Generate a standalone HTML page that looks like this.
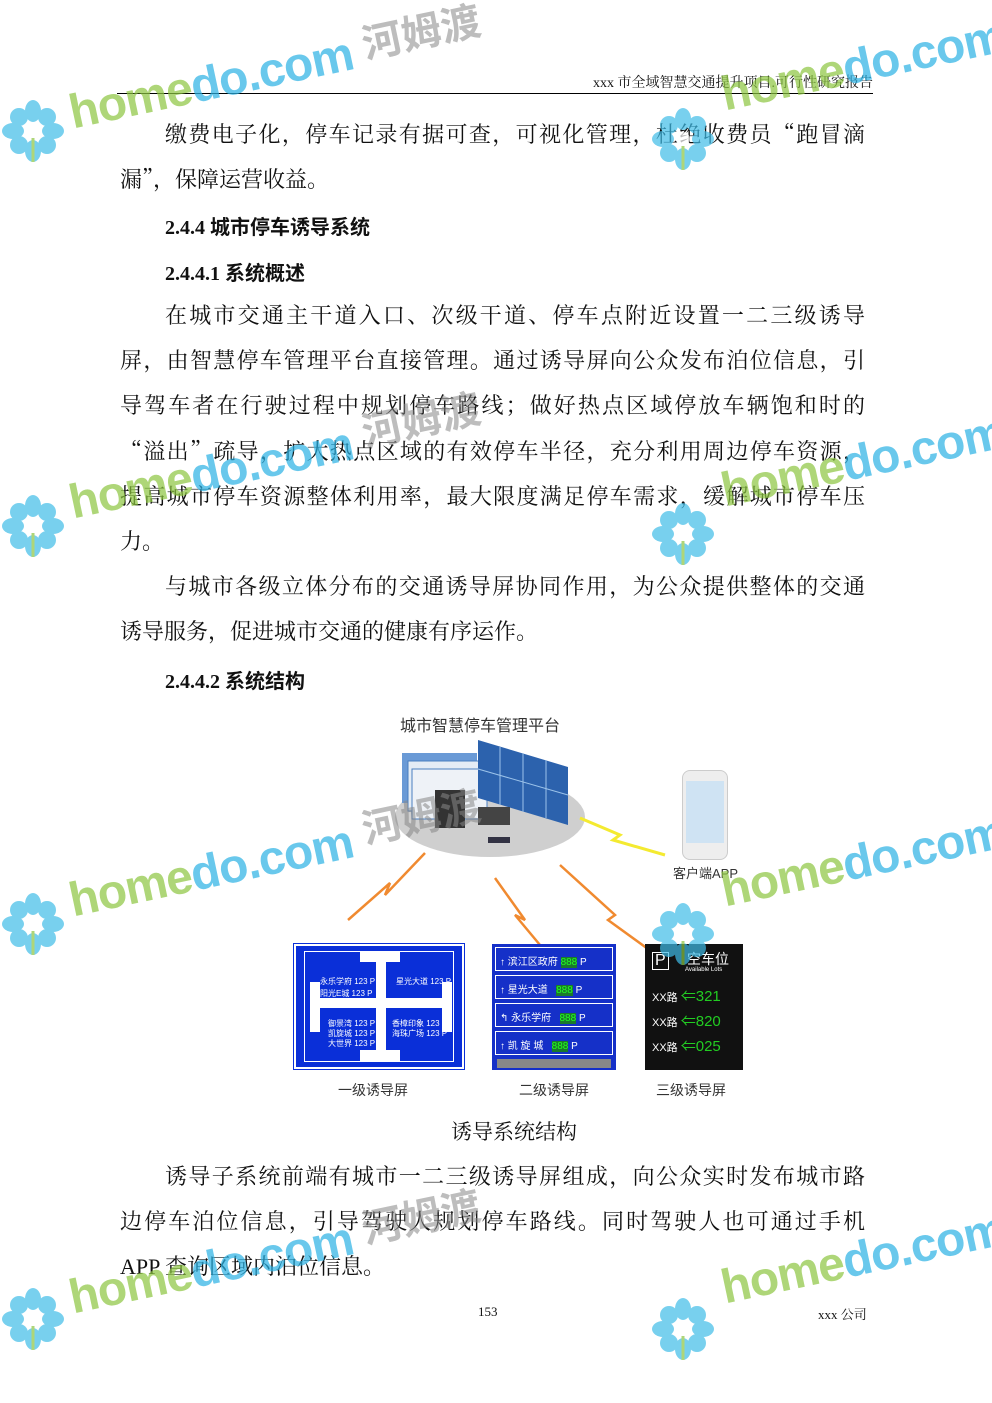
<!DOCTYPE html>
<html><head><meta charset="utf-8">
<style>
*{margin:0;padding:0;box-sizing:border-box}
body{width:992px;height:1403px;background:#fff;position:relative;overflow:hidden;font-family:"Liberation Serif","Noto Serif CJK SC","Noto Sans CJK SC",serif;color:#111}
.l{position:absolute;font-size:22px;line-height:30px;white-space:nowrap}
.j{width:745px;left:120px;text-align:justify;text-align-last:justify}
.ji{width:700px;left:165px;text-align:justify;text-align-last:justify}
.q{font-family:"Noto Serif CJK SC",serif}
.h{position:absolute;left:165px;font-size:20px;font-weight:bold;font-family:"Liberation Serif","Noto Sans CJK SC",serif}
.s{position:absolute;font-family:"Liberation Sans","Noto Sans CJK SC",sans-serif;font-size:14px;color:#333}
.wm{position:absolute;font-family:"Liberation Sans",sans-serif;font-weight:bold;opacity:.7;transform:rotate(-12deg);transform-origin:left center;white-space:nowrap;font-size:48px;line-height:48px;letter-spacing:-1px}
.hm{position:absolute;font-family:"Noto Sans CJK SC",sans-serif;font-weight:bold;color:#888;opacity:.55;font-size:40px;line-height:44px;transform:rotate(-12deg);transform-origin:left center;white-space:nowrap}
.g{color:#8cc63f}.c{color:#2ab2e4}
.fl{position:absolute;width:62px;height:62px;opacity:.7}
.gs{font-family:"Liberation Sans","Noto Sans CJK SC",sans-serif;color:#fff;position:absolute;font-size:8px}
</style></head><body>
<div style="position:absolute;left:560px;top:72px;font-size:14px;width:313px;text-align:right">xxx 市全域智慧交通提升项目.可行性研究报告</div>
<div style="position:absolute;left:117px;top:93px;width:756px;border-top:1px solid #000"></div>

<div class="l ji" style="top:119px">缴费电子化，停车记录有据可查，可视化管理，杜绝收费员<span class="q">“</span>跑冒滴</div>
<div class="l" style="left:120px;top:164px">漏<span class="q">”</span>，保障运营收益。</div>
<div class="h" style="top:211px">2.4.4 城市停车诱导系统</div>
<div class="h" style="top:257px">2.4.4.1 系统概述</div>
<div class="l ji" style="top:301px">在城市交通主干道入口、次级干道、停车点附近设置一二三级诱导</div>
<div class="l j" style="top:346px">屏，由智慧停车管理平台直接管理。通过诱导屏向公众发布泊位信息，引</div>
<div class="l j" style="top:391px">导驾车者在行驶过程中规划停车路线；做好热点区域停放车辆饱和时的</div>
<div class="l j" style="top:436px"><span class="q">“</span>溢出<span class="q">”</span>疏导，扩大热点区域的有效停车半径，充分利用周边停车资源，</div>
<div class="l j" style="top:482px">提高城市停车资源整体利用率，最大限度满足停车需求，缓解城市停车压</div>
<div class="l" style="left:120px;top:527px">力。</div>
<div class="l ji" style="top:572px">与城市各级立体分布的交通诱导屏协同作用，为公众提供整体的交通</div>
<div class="l" style="left:120px;top:617px">诱导服务，促进城市交通的健康有序运作。</div>
<div class="h" style="top:665px">2.4.4.2 系统结构</div>

<!-- diagram -->
<div class="s" style="left:400px;top:712px;font-size:16px">城市智慧停车管理平台</div>
<svg style="position:absolute;left:290px;top:735px" width="460" height="230">
 <ellipse cx="200" cy="82" rx="95" ry="40" fill="#cfcfcf"/>
 <rect x="112" y="18" width="75" height="50" fill="#6a9ad6"/>
 <rect x="118" y="26" width="75" height="50" fill="#e4ecf5" stroke="#4a7fc0"/>
 <rect x="122" y="34" width="75" height="50" fill="#eef2f7" stroke="#4a7fc0"/>
 <polygon points="188,5 278,32 278,90 188,63" fill="#2c62ad"/>
 <g stroke="#9cc3ea" stroke-width="1"><line x1="210" y1="12" x2="210" y2="70"/><line x1="233" y1="18" x2="233" y2="77"/><line x1="256" y1="25" x2="256" y2="83"/><line x1="188" y1="34" x2="278" y2="60"/></g>
 <rect x="145" y="55" width="30" height="38" fill="#333"/>
 <rect x="188" y="72" width="32" height="18" fill="#444"/>
 <rect x="198" y="102" width="22" height="6" fill="#334"/>
 <g fill="none" stroke="#f08a30" stroke-width="2.5">
  <polyline points="58,185 100,148 95,160 135,118"/>
  <polyline points="205,143 235,185 225,180 265,228"/>
  <polyline points="270,130 325,180 318,185 380,230"/>
 </g>
 <polyline points="290,83 330,100 323,105 375,120" fill="none" stroke="#f4ea30" stroke-width="3"/>
</svg>
<div style="position:absolute;left:682px;top:770px;width:46px;height:90px;border-radius:8px;background:#eee;border:1px solid #ccc"><div style="margin:10px 3px;height:62px;background:#cfe3f3"></div></div>
<div class="s" style="left:673px;top:863px;font-size:13px">客户端APP</div>

<div style="position:absolute;left:294px;top:944px;width:170px;height:125px;background:#0a2fd8;border:2px solid #fff;outline:1px solid #0a2fd8">
 <div style="position:absolute;left:8px;top:5px;right:8px;bottom:5px;border:1px solid #fff"></div>
 <div style="position:absolute;left:80px;top:8px;width:10px;height:108px;background:#fff"></div>
 <div style="position:absolute;left:18px;top:52px;width:135px;height:10px;background:#fff"></div>
 <div style="position:absolute;left:64px;top:5px;width:40px;height:11px;background:#fff"></div>
 <div style="position:absolute;left:64px;top:104px;width:40px;height:11px;background:#fff"></div>
 <div style="position:absolute;left:14px;top:36px;width:10px;height:50px;background:#fff"></div>
 <div style="position:absolute;left:146px;top:36px;width:10px;height:50px;background:#fff"></div>
 <div class="gs" style="left:24px;top:30px">永乐学府 123 P</div>
 <div class="gs" style="left:100px;top:30px">星光大道 123 P</div>
 <div class="gs" style="left:24px;top:42px">阳光E城 123 P</div>
 <div class="gs" style="left:32px;top:72px">御景湾 123 P</div>
 <div class="gs" style="left:32px;top:82px">凯旋城 123 P</div>
 <div class="gs" style="left:32px;top:92px">大世界 123 P</div>
 <div class="gs" style="left:96px;top:72px">香樟印象 123 P</div>
 <div class="gs" style="left:96px;top:82px">海珠广场 123 P</div>
</div>
<div style="position:absolute;left:492px;top:944px;width:124px;height:126px;background:#1530c8">
 <div style="position:absolute;left:3px;top:3px;right:3px;height:24px;border:1px solid #fff"></div>
 <div style="position:absolute;left:3px;top:31px;right:3px;height:24px;border:1px solid #fff"></div>
 <div style="position:absolute;left:3px;top:59px;right:3px;height:24px;border:1px solid #fff"></div>
 <div style="position:absolute;left:3px;top:87px;right:3px;height:24px;border:1px solid #fff"></div>
 <div class="gs" style="left:8px;top:9px;font-size:10px">↑ 滨江区政府 <span style="background:#1a7a2a;color:#2f2">888</span> P</div>
 <div class="gs" style="left:8px;top:37px;font-size:10px">↑ 星光大道 &nbsp; <span style="background:#1a7a2a;color:#2f2">888</span> P</div>
 <div class="gs" style="left:8px;top:65px;font-size:10px">↰ 永乐学府 &nbsp; <span style="background:#1a7a2a;color:#2f2">888</span> P</div>
 <div class="gs" style="left:8px;top:93px;font-size:10px">↑ 凯 旋 城 &nbsp; <span style="background:#1a7a2a;color:#2f2">888</span> P</div>
 <div style="position:absolute;left:5px;top:115px;right:5px;height:9px;background:#888"></div>
</div>
<div style="position:absolute;left:645px;top:944px;width:98px;height:126px;background:#111">
 <div class="gs" style="left:7px;top:8px;font-size:16px;border:1px solid #fff;padding:0 2px;line-height:16px">P</div>
 <div class="gs" style="left:42px;top:5px;font-size:14px">空车位</div>
 <div class="gs" style="left:40px;top:23px;font-size:6px">Available Lots</div>
 <div class="gs" style="left:7px;top:41px;font-size:11px">XX路 <span style="color:#2c2;font-size:15px">⇐321</span></div>
 <div class="gs" style="left:7px;top:66px;font-size:11px">XX路 <span style="color:#2c2;font-size:15px">⇐820</span></div>
 <div class="gs" style="left:7px;top:91px;font-size:11px">XX路 <span style="color:#2c2;font-size:15px">⇐025</span></div>
</div>
<div class="s" style="left:338px;top:1080px">一级诱导屏</div>
<div class="s" style="left:519px;top:1080px">二级诱导屏</div>
<div class="s" style="left:656px;top:1080px">三级诱导屏</div>

<div class="l" style="left:451px;top:1117px;font-size:21px">诱导系统结构</div>
<div class="l ji" style="top:1162px">诱导子系统前端有城市一二三级诱导屏组成，向公众实时发布城市路</div>
<div class="l j" style="top:1207px">边停车泊位信息，引导驾驶人规划停车路线。同时驾驶人也可通过手机</div>
<div class="l" style="left:120px;top:1252px">APP 查询区域内泊位信息。</div>
<div style="position:absolute;left:478px;top:1304px;font-size:13px">153</div>
<div style="position:absolute;left:818px;top:1304px;font-size:13px">xxx 公司</div>

<!-- watermarks -->
<svg width="0" height="0" style="position:absolute"><defs>
<g id="fw"><g fill="#3fbde8">
<ellipse cx="31" cy="11" rx="8" ry="11"/><ellipse cx="31" cy="51" rx="8" ry="11"/>
<ellipse cx="11" cy="31" rx="11" ry="8"/><ellipse cx="51" cy="31" rx="11" ry="8"/>
<ellipse cx="17" cy="17" rx="9" ry="9"/><ellipse cx="45" cy="17" rx="9" ry="9"/>
<ellipse cx="17" cy="45" rx="9" ry="9"/><ellipse cx="45" cy="45" rx="9" ry="9"/></g>
<circle cx="31" cy="31" r="7" fill="#fff"/><line x1="31" y1="38" x2="31" y2="62" stroke="#8cc63f" stroke-width="3"/></g>
</defs></svg>

<div class="hm" style="left:362px;top:20px">河姆渡</div>
<div class="wm" style="left:70px;top:90px"><span class="g">home</span><span class="c">do.com</span></div>
<svg class="fl" style="left:2px;top:100px"><use href="#fw"/></svg>
<div class="wm" style="left:722px;top:72px"><span class="g">home</span><span class="c">do.com</span></div>
<svg class="fl" style="left:652px;top:108px"><use href="#fw"/></svg>

<div class="hm" style="left:362px;top:408px">河姆渡</div>
<div class="wm" style="left:70px;top:480px"><span class="g">home</span><span class="c">do.com</span></div>
<svg class="fl" style="left:2px;top:495px"><use href="#fw"/></svg>
<div class="wm" style="left:722px;top:468px"><span class="g">home</span><span class="c">do.com</span></div>
<svg class="fl" style="left:652px;top:503px"><use href="#fw"/></svg>

<div class="hm" style="left:362px;top:805px">河姆渡</div>
<div class="wm" style="left:70px;top:878px"><span class="g">home</span><span class="c">do.com</span></div>
<svg class="fl" style="left:2px;top:893px"><use href="#fw"/></svg>
<div class="wm" style="left:722px;top:868px"><span class="g">home</span><span class="c">do.com</span></div>
<svg class="fl" style="left:652px;top:903px"><use href="#fw"/></svg>

<div class="hm" style="left:362px;top:1205px">河姆渡</div>
<div class="wm" style="left:70px;top:1275px"><span class="g">home</span><span class="c">do.com</span></div>
<svg class="fl" style="left:2px;top:1288px"><use href="#fw"/></svg>
<div class="wm" style="left:722px;top:1265px"><span class="g">home</span><span class="c">do.com</span></div>
<svg class="fl" style="left:652px;top:1298px"><use href="#fw"/></svg>
</body></html>
